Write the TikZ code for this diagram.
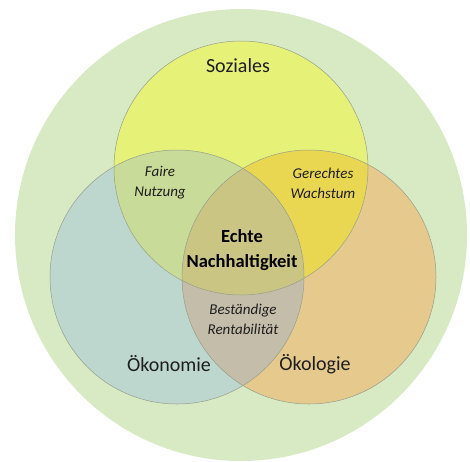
\documentclass[tikz,border=0pt]{standalone}
\usepackage{fontspec}
\setmainfont{Carlito}
\definecolor{outergreen}{RGB}{216,234,196}
\definecolor{socyellow}{RGB}{230,241,120}
\definecolor{ecoblue}{RGB}{190,215,206}
\definecolor{ecoorange}{RGB}{229,201,141}
\definecolor{fairgreen}{RGB}{201,219,152}
\definecolor{growgold}{RGB}{233,215,82}
\definecolor{rentgray}{RGB}{196,189,170}
\definecolor{coreolive}{RGB}{203,197,132}
\definecolor{rimgray}{RGB}{150,158,140}
\definecolor{inkgray}{RGB}{30,30,30}

\begin{document}
\begin{tikzpicture}[x=1pt,y=-1pt,
    big/.style={text=inkgray, font=\fontsize{20}{24}\selectfont},
    pair/.style={text=inkgray, align=center, font=\itshape\fontsize{15}{20}\selectfont},
    core/.style={text=black, align=center, font=\bfseries\fontsize{18.5}{25}\selectfont}]
    \useasboundingbox (0,0) rectangle (470,461);
    \fill[white] (0,0) rectangle (470,461);

    \coordinate (G) at (241,235);
    \coordinate (S) at (241,168);
    \coordinate (K) at (177,277);
    \coordinate (L) at (309,277);

    % circles
    \fill[outergreen] (G) circle (226);
    \fill[ecoblue] (K) circle (127);
    \fill[ecoorange] (L) circle (127);
    \fill[socyellow] (S) circle (127);

    % overlaps
    \begin{scope}
        \clip (S) circle (127);
        \fill[fairgreen] (K) circle (127);
        \fill[growgold] (L) circle (127);
    \end{scope}
    \begin{scope}
        \clip (K) circle (127);
        \fill[rentgray] (L) circle (127);
        \clip (S) circle (127);
        \fill[coreolive] (L) circle (127);
    \end{scope}

    \draw[rimgray, line width=0.5pt] (S) circle (127);
    \draw[rimgray, line width=0.5pt] (K) circle (127);
    \draw[rimgray, line width=0.5pt] (L) circle (127);

    % labels
    \node[big] (soz) at (238,66) {Soziales};
    \node[big] (oko) at (169,364) {Ökonomie};
    \node[big] (okl) at (315,364) {Ökologie};
    \node[pair] (fair) at (160,183) {Faire\\Nutzung};
    \node[pair] (grow) at (323,183) {Gerechtes\\Wachstum};
    \node[pair] (rent) at (243,319) {Beständige\\Rentabilität};
    \node[core] (echt) at (242,250) {Echte\\Nachhaltigkeit};
\end{tikzpicture}
\end{document}
